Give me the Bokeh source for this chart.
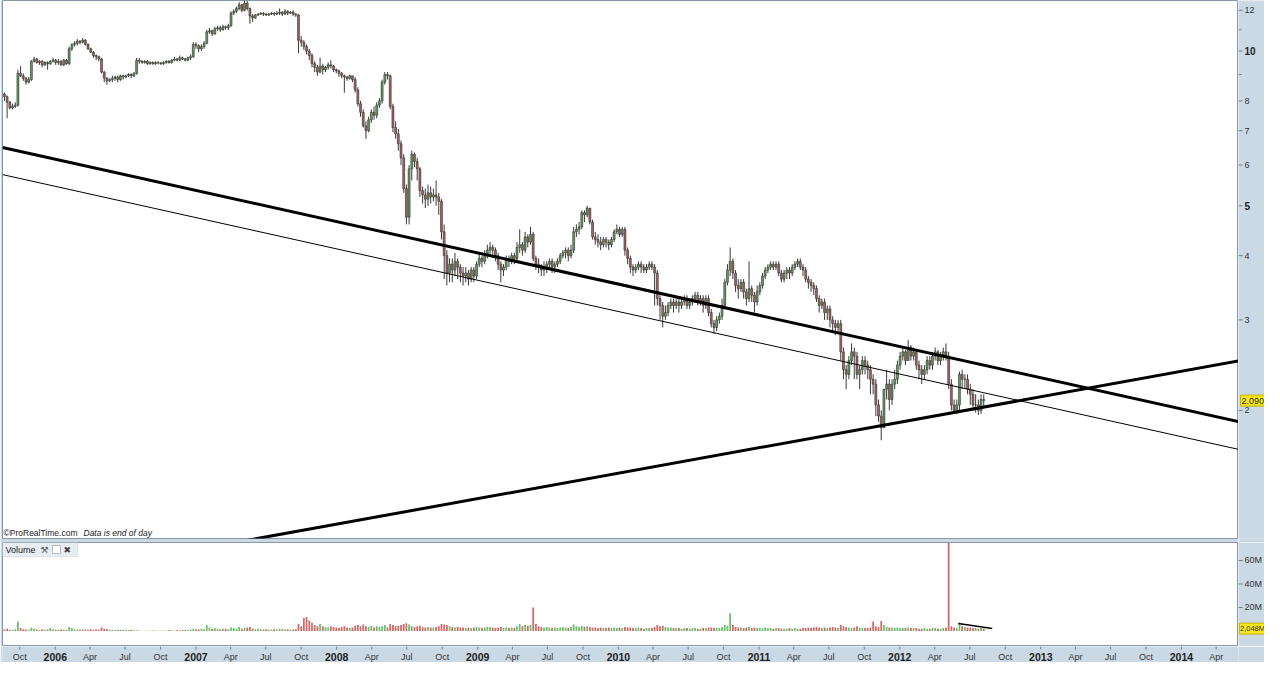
import pandas as pd
from bokeh.plotting import figure
from bokeh.layouts import column, row
from bokeh.models import Range1d, Label, BoxAnnotation, ColumnDataSource
from bokeh.embed import file_html
from bokeh.resources import INLINE
from bokeh.core.properties import value

# ---------------- data (weekly candles) ----------------
first_week = "2005-08-22"
first_open = 8.25

closes = [
    8.15, 7.95, 7.75, 7.8, 7.85, 9.05, 8.95, 8.85, 8.7, 8.8,
    9.55, 9.65, 9.5, 9.55, 9.4, 9.5, 9.45, 9.55, 9.6, 9.5,
    9.55, 9.4, 9.6, 9.45, 10.1, 10.3, 10.35, 10.45, 10.4, 10.5,
    10.3, 10.1, 9.95, 9.8, 9.75, 9.65, 9.1, 8.85, 8.75, 8.8,
    8.85, 8.9, 8.8, 8.95, 8.9, 8.95, 9.0, 8.95, 9.05, 9.6,
    9.55, 9.5, 9.55, 9.45, 9.5, 9.45, 9.5, 9.48, 9.45, 9.5,
    9.55, 9.5, 9.6, 9.65, 9.6, 9.7, 9.65, 9.6, 9.7, 9.75,
    10.3, 10.25, 10.1, 10.2, 10.35, 10.9, 10.95, 10.8, 11.05, 11.1,
    11.0, 11.15, 11.1, 11.2, 11.85, 11.95, 12.1, 12.3, 12.0, 12.4,
    12.1, 11.7, 11.6, 11.75, 11.8, 11.85, 11.8, 11.75, 11.8, 11.85,
    11.8, 11.85, 11.9, 11.8, 11.95, 11.85, 11.9, 11.8, 11.75, 10.5,
    10.4, 10.2, 10.0, 9.8, 9.45, 9.3, 9.1, 9.35, 9.2, 9.3,
    9.4, 9.35, 9.2, 9.15, 9.05, 8.95, 8.9, 8.85, 8.95, 8.8,
    8.4, 7.9, 7.6, 7.15, 7.0, 7.35, 7.6, 7.5, 7.85, 8.0,
    8.7, 9.0, 8.95, 7.8, 7.1, 6.9, 6.6, 6.2, 5.4, 4.75,
    5.9, 6.3, 6.1, 5.9, 5.35, 5.25, 5.15, 5.3, 5.2, 5.25,
    5.2, 5.1, 4.45, 4.0, 3.7, 3.85, 3.75, 3.9, 3.8, 3.7,
    3.65, 3.7, 3.6, 3.75, 3.65, 3.85, 3.95, 3.9, 4.0, 4.1,
    4.15, 4.1, 4.0, 3.85, 3.75, 3.8, 3.95, 3.9, 4.0, 3.95,
    4.15, 4.2, 4.1, 4.35, 4.25, 4.4, 3.95, 3.85, 3.8, 3.75,
    3.8, 3.85, 3.9, 3.8, 3.85, 3.9, 4.0, 4.05, 4.1, 4.0,
    4.1, 4.45, 4.5, 4.55, 4.85, 4.8, 4.95, 4.65, 4.35, 4.3,
    4.25, 4.2, 4.3, 4.25, 4.2, 4.3, 4.45, 4.5, 4.4, 4.5,
    4.1, 3.95, 3.8, 3.75, 3.8, 3.85, 3.8, 3.75, 3.8, 3.85,
    3.8, 3.7, 3.3, 3.2, 3.05, 3.1, 3.2, 3.25, 3.2, 3.25,
    3.2, 3.25, 3.3, 3.2, 3.25, 3.3, 3.35, 3.25, 3.3, 3.2,
    3.3, 3.1, 2.95, 2.9, 3.0, 3.05, 3.2, 3.55, 3.75, 3.9,
    3.7, 3.5, 3.45, 3.55, 3.4, 3.3, 3.45, 3.35, 3.25, 3.4,
    3.5, 3.65, 3.75, 3.8, 3.85, 3.8, 3.85, 3.7, 3.6, 3.7,
    3.75, 3.7, 3.8, 3.85, 3.9, 3.8, 3.75, 3.6, 3.55, 3.5,
    3.45, 3.3, 3.2, 3.25, 3.1, 3.15, 3.0, 2.95, 2.9, 2.95,
    2.6, 2.4, 2.35, 2.5, 2.6, 2.55, 2.35, 2.4, 2.5, 2.45,
    2.4, 2.3, 2.25, 2.05, 1.95, 1.85, 2.2, 2.25, 2.1, 2.25,
    2.3, 2.45, 2.55, 2.6, 2.5, 2.65, 2.55, 2.6, 2.45, 2.4,
    2.35, 2.4, 2.5, 2.45, 2.55, 2.6, 2.5, 2.55, 2.6, 2.55,
    2.25, 2.05, 2.0, 2.05, 2.35, 2.3, 2.3, 2.2, 2.15, 2.05,
    2.05, 2.0, 2.1, 2.09,
]

highs = [
    8.3, 8.2, 8.0, 7.9, 7.95, 9.2, 9.35, 9.05, 8.9, 8.9,
    9.6, 9.75, 9.7, 9.6, 9.6, 9.55, 9.55, 9.6, 9.7, 9.65,
    9.65, 9.6, 9.65, 9.65, 10.2, 10.35, 10.45, 10.55, 10.5, 10.6,
    10.55, 10.35, 10.15, 10.0, 9.85, 9.8, 9.7, 9.15, 8.9, 8.85,
    8.95, 8.95, 8.95, 9.0, 9.0, 9.0, 9.05, 9.05, 9.1, 9.7,
    9.7, 9.6, 9.6, 9.6, 9.55, 9.55, 9.55, 9.55, 9.52, 9.55,
    9.6, 9.6, 9.65, 9.75, 9.7, 9.8, 9.75, 9.7, 9.75, 9.85,
    10.4, 10.4, 10.3, 10.3, 10.45, 11.0, 11.1, 11.0, 11.15, 11.2,
    11.2, 11.25, 11.2, 11.3, 11.95, 12.05, 12.2, 12.45, 12.35, 12.55,
    12.5, 12.15, 11.8, 11.8, 11.85, 11.9, 11.9, 11.85, 11.85, 11.9,
    11.9, 11.95, 12.1, 11.95, 12.05, 12.0, 11.95, 12.0, 11.85, 11.8,
    10.7, 10.5, 10.3, 10.1, 9.9, 9.55, 9.4, 9.7, 9.45, 9.35,
    9.5, 9.6, 9.4, 9.25, 9.2, 9.1, 9.0, 8.95, 9.0, 8.95,
    8.9, 8.5, 8.0, 7.7, 7.3, 7.45, 7.7, 7.8, 7.95, 8.1,
    8.8, 9.1, 9.1, 9.0, 7.9, 7.3, 7.05, 6.7, 6.3, 5.5,
    6.0, 6.4, 6.35, 6.2, 5.95, 5.45, 5.4, 5.5, 5.45, 5.4,
    5.6, 5.3, 5.15, 4.6, 4.1, 3.95, 3.95, 4.05, 3.95, 3.85,
    3.8, 3.8, 3.75, 3.8, 3.8, 3.9, 4.05, 4.0, 4.1, 4.2,
    4.25, 4.2, 4.15, 4.05, 3.9, 3.85, 4.0, 4.0, 4.05, 4.05,
    4.25, 4.5, 4.25, 4.45, 4.4, 4.55, 4.45, 4.0, 3.95, 3.85,
    3.9, 3.9, 3.95, 3.95, 3.9, 3.95, 4.05, 4.1, 4.15, 4.15,
    4.2, 4.55, 4.6, 4.65, 4.9, 4.9, 5.0, 4.95, 4.7, 4.45,
    4.4, 4.35, 4.35, 4.35, 4.3, 4.35, 4.5, 4.6, 4.55, 4.55,
    4.55, 4.15, 4.0, 3.85, 3.85, 3.9, 3.9, 3.85, 3.85, 3.9,
    3.9, 3.85, 3.75, 3.35, 3.25, 3.2, 3.25, 3.3, 3.3, 3.3,
    3.3, 3.3, 3.35, 3.35, 3.3, 3.35, 3.4, 3.4, 3.35, 3.35,
    3.35, 3.35, 3.15, 3.0, 3.05, 3.1, 3.3, 3.6, 3.85, 4.15,
    3.95, 3.75, 3.6, 3.6, 3.6, 3.45, 3.9, 3.5, 3.4, 3.5,
    3.55, 3.7, 3.8, 3.85, 3.9, 3.9, 3.9, 3.9, 3.75, 3.75,
    3.8, 3.8, 3.85, 3.9, 3.95, 3.95, 3.85, 3.8, 3.65, 3.6,
    3.55, 3.5, 3.35, 3.3, 3.3, 3.2, 3.2, 3.05, 3.0, 3.0,
    3.0, 2.65, 2.45, 2.55, 2.7, 2.65, 2.6, 2.45, 2.55, 2.55,
    2.5, 2.45, 2.35, 2.3, 2.1, 2.0, 2.2, 2.4, 2.3, 2.3,
    2.4, 2.5, 2.6, 2.65, 2.62, 2.74, 2.68, 2.65, 2.62, 2.5,
    2.45, 2.45, 2.55, 2.55, 2.6, 2.65, 2.62, 2.6, 2.65, 2.7,
    2.6, 2.3, 2.1, 2.1, 2.38, 2.4, 2.35, 2.35, 2.25, 2.2,
    2.15, 2.1, 2.15, 2.15,
]

lows = [
    8.0, 7.4, 7.7, 7.7, 7.75, 7.8, 8.9, 8.75, 8.6, 8.65,
    8.75, 9.5, 9.45, 9.4, 9.3, 9.35, 9.2, 9.4, 9.5, 9.4,
    9.4, 9.35, 9.35, 9.4, 9.4, 10.0, 10.2, 10.25, 10.3, 10.35,
    10.25, 10.05, 9.9, 9.7, 9.6, 9.55, 9.05, 8.7, 8.6, 8.7,
    8.7, 8.75, 8.7, 8.75, 8.8, 8.85, 8.9, 8.85, 8.9, 9.0,
    9.45, 9.45, 9.45, 9.4, 9.4, 9.4, 9.4, 9.42, 9.4, 9.4,
    9.45, 9.45, 9.45, 9.55, 9.55, 9.55, 9.6, 9.55, 9.55, 9.6,
    9.7, 10.1, 9.95, 10.0, 10.1, 10.3, 10.8, 10.7, 10.75, 10.95,
    10.9, 10.95, 11.0, 11.0, 11.15, 11.75, 11.85, 12.0, 11.9, 11.95,
    12.0, 11.3, 11.4, 11.55, 11.7, 11.75, 11.7, 11.7, 11.7, 11.75,
    11.7, 11.75, 11.75, 11.7, 11.75, 11.75, 11.8, 11.7, 11.65, 9.9,
    10.2, 10.05, 9.85, 9.6, 9.3, 9.1, 8.95, 9.05, 9.0, 9.1,
    9.2, 9.25, 9.1, 9.05, 8.9, 8.85, 8.3, 8.75, 8.8, 8.7,
    8.3, 7.8, 7.45, 7.1, 6.75, 6.95, 7.25, 7.35, 7.4, 7.75,
    7.9, 8.6, 8.8, 7.7, 6.95, 6.75, 6.4, 6.0, 5.3, 4.6,
    4.6, 5.6, 5.95, 5.6, 5.2, 5.05, 4.95, 5.0, 5.05, 5.1,
    5.0, 4.8, 4.3, 3.6, 3.5, 3.55, 3.55, 3.65, 3.6, 3.55,
    3.5, 3.55, 3.5, 3.55, 3.55, 3.6, 3.8, 3.8, 3.85, 3.95,
    4.0, 4.0, 3.9, 3.75, 3.55, 3.65, 3.75, 3.8, 3.85, 3.85,
    3.9, 4.05, 4.0, 4.05, 4.15, 4.2, 3.9, 3.75, 3.7, 3.65,
    3.65, 3.7, 3.75, 3.7, 3.7, 3.8, 3.85, 3.95, 3.95, 3.9,
    3.95, 4.05, 4.35, 4.4, 4.5, 4.65, 4.75, 4.6, 4.3, 4.2,
    4.15, 4.1, 4.15, 4.15, 4.1, 4.15, 4.25, 4.4, 4.35, 4.35,
    4.0, 3.85, 3.7, 3.65, 3.7, 3.75, 3.7, 3.7, 3.7, 3.75,
    3.75, 3.2, 3.2, 3.0, 2.9, 3.0, 3.05, 3.15, 3.1, 3.15,
    3.1, 3.15, 3.2, 3.15, 3.15, 3.2, 3.25, 3.2, 3.2, 3.1,
    3.15, 3.05, 2.9, 2.82, 2.85, 2.95, 3.0, 3.15, 3.5, 3.65,
    3.6, 3.4, 3.3, 3.4, 3.3, 3.2, 3.25, 3.25, 3.1, 3.2,
    3.35, 3.45, 3.6, 3.7, 3.75, 3.75, 3.75, 3.65, 3.55, 3.55,
    3.6, 3.6, 3.65, 3.75, 3.8, 3.75, 3.65, 3.55, 3.45, 3.4,
    3.35, 3.25, 3.1, 3.15, 3.0, 3.0, 2.9, 2.85, 2.8, 2.85,
    2.5, 2.3, 2.2, 2.3, 2.45, 2.3, 2.3, 2.2, 2.35, 2.35,
    2.3, 2.15, 2.15, 1.95, 1.9, 1.75, 1.85, 2.1, 2.0, 2.05,
    2.2, 2.25, 2.4, 2.5, 2.45, 2.5, 2.5, 2.5, 2.4, 2.3,
    2.25, 2.3, 2.35, 2.4, 2.4, 2.5, 2.45, 2.45, 2.5, 2.5,
    2.2, 2.0, 1.97, 1.97, 2.0, 2.2, 2.2, 2.15, 2.05, 2.0,
    1.98, 1.96, 1.97, 2.02,
]

volumes_m = [
    1.2, 2.0, 1.0, 0.8, 1.5, 8.0, 2.5, 1.5, 1.2, 1.0,
    3.0, 2.0, 1.2, 1.0, 1.5, 1.0, 1.2, 2.5, 1.5, 1.0,
    1.0, 1.2, 1.0, 0.8, 3.5, 2.5, 1.5, 1.2, 1.0, 1.5,
    1.2, 1.0, 1.5, 1.0, 1.2, 1.0, 3.0, 2.0, 1.5, 1.0,
    1.0, 0.8, 1.0, 1.2, 0.8, 1.0, 0.8, 1.0, 0.6, 0.6,
    0.3, 0.2, 0.3, 0.2, 0.2, 0.5, 0.3, 0.2, 0.2, 0.2,
    0.5, 0.8, 0.6, 0.5, 0.8, 0.6, 1.0, 0.8, 1.0, 1.2,
    2.0, 1.5, 1.2, 2.0, 1.5, 5.0, 3.0, 2.0, 2.5, 2.0,
    1.5, 1.8, 2.0, 1.5, 3.0, 2.5, 2.0, 3.5, 2.0, 2.5,
    3.0, 3.5, 2.0, 1.5, 1.8, 1.5, 1.2, 1.5, 1.0, 1.2,
    1.5, 1.2, 1.8, 1.5, 1.2, 1.5, 1.0, 1.2, 1.5, 6.0,
    4.0, 11.0, 12.0, 9.0, 7.0, 5.0, 4.0, 6.0, 4.0, 3.5,
    3.0, 4.0, 3.5, 3.0, 2.5, 3.5, 4.0, 3.0, 2.5, 3.0,
    4.5, 5.0, 4.0, 5.5, 4.0, 3.5, 4.5, 3.0, 4.0, 3.5,
    4.0, 5.0, 3.0, 6.0, 5.0, 4.0, 4.5, 5.0, 6.0, 6.5,
    5.5, 4.0, 3.5, 4.0, 4.5, 3.5, 3.0, 3.5, 3.0, 3.0,
    3.5, 4.0, 6.0, 5.5, 5.0, 4.0, 3.5, 3.0, 3.5, 3.0,
    3.0, 2.5, 3.0, 2.5, 3.0, 3.5, 3.0, 2.5, 3.0, 3.5,
    3.5, 3.0, 2.5, 3.0, 3.5, 2.5, 3.0, 2.5, 3.0, 2.5,
    4.0, 6.0, 4.0, 5.0, 4.5, 5.0, 20.0, 6.0, 4.0, 3.5,
    3.0, 3.5, 3.0, 2.5, 3.0, 2.5, 3.0, 3.5, 3.0, 2.5,
    3.5, 5.5, 4.0, 3.5, 4.5, 3.5, 4.0, 3.5, 3.0, 3.0,
    2.5, 3.0, 2.5, 2.5, 3.0, 2.5, 3.0, 2.5, 3.0, 2.5,
    3.5, 3.0, 3.0, 2.5, 2.5, 3.0, 2.5, 2.0, 2.5, 2.5,
    2.5, 3.5, 5.0, 4.0, 4.5, 3.5, 3.0, 3.0, 2.5, 2.5,
    2.5, 2.0, 2.5, 2.5, 2.0, 2.5, 2.5, 2.0, 2.0, 2.5,
    2.5, 3.0, 3.0, 2.5, 2.5, 2.5, 3.5, 5.0, 4.5, 15.0,
    5.0, 3.5, 3.0, 3.0, 2.5, 3.0, 3.5, 2.5, 3.0, 2.5,
    2.5, 2.5, 3.0, 2.5, 2.5, 2.0, 2.5, 2.5, 2.0, 2.0,
    2.0, 2.5, 2.0, 2.5, 2.0, 2.0, 2.5, 2.5, 3.0, 2.5,
    3.0, 3.5, 3.0, 2.5, 3.0, 2.5, 3.0, 3.5, 3.0, 2.5,
    5.0, 4.0, 3.5, 3.0, 2.5, 3.0, 4.0, 3.0, 2.5, 2.5,
    2.5, 3.0, 8.0, 4.0, 3.5, 8.5, 5.0, 3.5, 3.0, 3.0,
    2.5, 3.0, 2.5, 2.5, 2.5, 3.0, 2.5, 2.5, 2.5, 2.0,
    2.0, 2.5, 2.0, 2.0, 2.5, 2.5, 2.0, 2.0, 2.5, 3.0,
    75.0, 4.0, 3.0, 2.5, 7.0, 4.0, 3.5, 3.0, 3.0, 2.5,
    2.5, 2.0, 2.5, 2.048,
]

# trend lines drawn on the chart: (date, value) end points
resistance_dates = ["2005-08-17", "2014-06-29"]
resistance_vals = [6.49, 1.88]
channel_dates = ["2005-08-17", "2014-06-29"]
channel_vals = [5.75, 1.66]
support_dates = ["2007-01-12", "2014-06-29"]
support_vals = [1.076, 2.52]
vol_line_dates = ["2012-06-01", "2012-08-28"]
vol_line_vals = [6.4, 2.1]

# axes
x_start, x_end = "2005-08-17", "2014-05-29"
price_min, price_max = 1.127, 12.54
vol_min, vol_max = -13.2, 75.3
price_ticks = [2, 3, 4, 5, 6, 7, 8, 10, 12]
price_tick_labels = ["2", "3", "4", "5", "6", "7", "8", "10", "12"]
price_bold = ["5", "10"]
price_minor = [9, 11]
vol_ticks = [20, 40, 60]
vol_tick_labels = ["20M", "40M", "60M"]
last_price_label = "2.090"
last_price = 2.09
last_vol_label = "2,048M"
last_vol = 2.048

xtick_dates = [
    "2005-10-01", "2006-01-01", "2006-04-01", "2006-07-01", "2006-10-01",
    "2007-01-01", "2007-04-01", "2007-07-01", "2007-10-01",
    "2008-01-01", "2008-04-01", "2008-07-01", "2008-10-01",
    "2009-01-01", "2009-04-01", "2009-07-01", "2009-10-01",
    "2010-01-01", "2010-04-01", "2010-07-01", "2010-10-01",
    "2011-01-01", "2011-04-01", "2011-07-01", "2011-10-01",
    "2012-01-01", "2012-04-01", "2012-07-01", "2012-10-01",
    "2013-01-01", "2013-04-01", "2013-07-01", "2013-10-01",
    "2014-01-01", "2014-04-01",
]
xtick_labels = [
    "Oct", "2006", "Apr", "Jul", "Oct",
    "2007", "Apr", "Jul", "Oct",
    "2008", "Apr", "Jul", "Oct",
    "2009", "Apr", "Jul", "Oct",
    "2010", "Apr", "Jul", "Oct",
    "2011", "Apr", "Jul", "Oct",
    "2012", "Apr", "Jul", "Oct",
    "2013", "Apr", "Jul", "Oct",
    "2014", "Apr",
]

# ---------------- build ----------------
FONT = "Liberation Sans"
BAND = "#cbd9e5"
EDGE = "#8797a8"
TICK = "#6b7b8b"
TXT = "#333333"
TAG = "#f6e51c"
UP_BODY, DN_BODY = "#5f9f5f", "#a86262"
UP_VOL, DN_VOL = "#6cbf6c", "#d06a6a"
FRAME_W = 1236
AX_W = 26
PRICE_H, VOL_H, XAX_H, GAP = 538, 104, 16, 4


def ms(d):
    return int(pd.Timestamp(d).value // 10**6)


def fig(**kw):
    f = figure(output_backend="svg", toolbar_location=None,
               x_axis_location=None, y_axis_location=None, min_border=0, **kw)
    f.grid.visible = False
    return f


n = min(len(closes), len(highs), len(lows), len(volumes_m))
dates = pd.date_range(first_week, periods=n, freq="7D")
opens = [first_open] + closes[: n - 1]
up = [closes[i] >= opens[i] for i in range(n)]
src = ColumnDataSource(dict(
    x=dates,
    h=highs[:n], l=lows[:n],
    top=[max(opens[i], closes[i]) for i in range(n)],
    bot=[min(opens[i], closes[i]) for i in range(n)],
    body=[UP_BODY if up[i] else DN_BODY for i in range(n)],
    vol=volumes_m[:n],
    vcol=[UP_VOL if up[i] else DN_VOL for i in range(n)],
))
week_w = 5 * 86400000
vol_w = 4.6 * 86400000
x_range = Range1d(ms(x_start), ms(x_end))

# ---- price panel ----
p1 = fig(frame_width=FRAME_W, frame_height=PRICE_H, x_range=x_range,
         y_range=Range1d(price_min, price_max), y_axis_type="log",
         min_border_left=2, min_border_bottom=GAP)
p1.background_fill_color = "white"
p1.border_fill_color = BAND
p1.outline_line_color = EDGE

p1.segment(x0="x", y0="l", x1="x", y1="h", source=src, line_color="#3a3a3a", line_width=1)
p1.vbar(x="x", top="top", bottom="bot", width=week_w, source=src,
        fill_color="body", line_color="#333333", line_width=0.6)
p1.line(x=[ms(d) for d in resistance_dates], y=resistance_vals, line_color="black", line_width=3)
p1.line(x=[ms(d) for d in channel_dates], y=channel_vals, line_color="black", line_width=1)
p1.line(x=[ms(d) for d in support_dates], y=support_vals, line_color="black", line_width=3)

p1.add_layout(Label(x=1, y=1, x_units="screen", y_units="screen", text="\u00a9ProRealTime.com",
                    text_font=FONT, text_font_size="8.5px", text_color="#222222",
                    text_baseline="bottom"))
p1.add_layout(Label(x=81, y=1, x_units="screen", y_units="screen", text="Data is end of day",
                    text_font=FONT, text_font_size="8.5px", text_font_style="italic",
                    text_color="#222222", text_baseline="bottom"))

# ---- price scale (right band) ----
p1r = fig(frame_width=AX_W, frame_height=PRICE_H, x_range=Range1d(0, AX_W),
          y_range=p1.y_range, y_axis_type="log", min_border_bottom=GAP)
p1r.background_fill_color = BAND
p1r.border_fill_color = BAND
p1r.outline_line_color = None
p1r.segment(x0=0, y0=price_ticks, x1=4, y1=price_ticks, line_color=TICK, line_width=1)
p1r.segment(x0=0, y0=price_minor, x1=3, y1=price_minor, line_color=TICK, line_width=1)
norm = [(t, s) for t, s in zip(price_ticks, price_tick_labels) if s not in price_bold]
bold = [(t, s) for t, s in zip(price_ticks, price_tick_labels) if s in price_bold]
p1r.text(x=6, y=[t for t, s in norm], text=[s for t, s in norm], text_font=value(FONT),
         text_font_size="9px", text_color=TXT, text_baseline="middle", text_align="left")
p1r.text(x=6, y=[t for t, s in bold], text=[s for t, s in bold], text_font=value(FONT),
         text_font_size="10px", text_font_style="bold", text_color="#222222",
         text_baseline="middle", text_align="left")
p1r.rect(x=[14], y=[last_price], width=24, height=11, width_units="screen", height_units="screen",
         fill_color=TAG, line_color="#c8b400")
p1r.text(x=3, y=[last_price], text=[last_price_label], text_font=value(FONT),
         text_font_size="9px", text_color=TXT, text_baseline="middle", text_align="left")

# ---- volume panel ----
p2 = fig(frame_width=FRAME_W, frame_height=VOL_H, x_range=x_range,
         y_range=Range1d(vol_min, vol_max), min_border_left=2)
p2.background_fill_color = "white"
p2.border_fill_color = BAND
p2.outline_line_color = EDGE
p2.vbar(x="x", top="vol", bottom=0, width=vol_w, source=src, fill_color="vcol", line_color=None)
p2.line(x=[ms(d) for d in vol_line_dates], y=vol_line_vals, line_color="black", line_width=1.5)

p2.add_layout(BoxAnnotation(left=0, right=75, top=VOL_H, bottom=VOL_H - 14,
                            left_units="screen", right_units="screen",
                            top_units="screen", bottom_units="screen",
                            fill_color="#e8edf1", fill_alpha=1.0, line_color="#a9b6c2", line_width=1))
p2.add_layout(Label(x=3, y=VOL_H - 7, x_units="screen", y_units="screen", text="Volume",
                    text_font=FONT, text_font_size="9px", text_color="#222222",
                    text_baseline="middle"))
p2.add_layout(Label(x=38, y=VOL_H - 7, x_units="screen", y_units="screen", text="\u2692",
                    text_font="DejaVu Sans", text_font_size="9px", text_color="#555555",
                    text_baseline="middle"))
p2.add_layout(BoxAnnotation(left=50, right=58, top=VOL_H - 3, bottom=VOL_H - 11,
                            left_units="screen", right_units="screen",
                            top_units="screen", bottom_units="screen",
                            fill_color="white", fill_alpha=1.0, line_color="#333333", line_width=1))
p2.add_layout(Label(x=61, y=VOL_H - 7, x_units="screen", y_units="screen", text="\u2716",
                    text_font="DejaVu Sans", text_font_size="9px", text_color="#444444",
                    text_baseline="middle"))

# ---- volume scale (right band) ----
p2r = fig(frame_width=AX_W, frame_height=VOL_H, x_range=Range1d(0, AX_W), y_range=p2.y_range)
p2r.background_fill_color = BAND
p2r.border_fill_color = BAND
p2r.outline_line_color = None
p2r.segment(x0=0, y0=vol_ticks, x1=4, y1=vol_ticks, line_color=TICK, line_width=1)
p2r.text(x=6, y=vol_ticks, text=vol_tick_labels, text_font=value(FONT), text_font_size="9px",
         text_color=TXT, text_baseline="middle", text_align="left")
p2r.rect(x=[13.5], y=[last_vol], width=25, height=11, width_units="screen", height_units="screen",
         fill_color=TAG, line_color="#c8b400")
p2r.text(x=1.5, y=[last_vol], text=[last_vol_label], text_font=value(FONT),
         text_font_size="7.5px", text_color=TXT, text_baseline="middle", text_align="left")

# ---- time scale (bottom band) ----
p3 = fig(frame_width=FRAME_W, frame_height=XAX_H, x_range=x_range, y_range=Range1d(0, XAX_H),
         min_border_left=2, min_border_right=AX_W)
p3.background_fill_color = BAND
p3.border_fill_color = BAND
p3.outline_line_color = None
tick_ms = [ms(d) for d in xtick_dates]
p3.segment(x0=tick_ms, y0=XAX_H, x1=tick_ms, y1=XAX_H - 3, line_color=TICK, line_width=1)
mon = [(t, s) for t, s in zip(tick_ms, xtick_labels) if not s.isdigit()]
yrs = [(t, s) for t, s in zip(tick_ms, xtick_labels) if s.isdigit()]
p3.text(x=[t for t, s in mon], y=6, text=[s for t, s in mon], text_font=value(FONT),
        text_font_size="9px", text_color=TXT, text_baseline="middle", text_align="center")
p3.text(x=[t for t, s in yrs], y=6, text=[s for t, s in yrs], text_font=value(FONT),
        text_font_size="10.5px", text_font_style="bold", text_color="#222222",
        text_baseline="middle", text_align="center")

layout = column(row(p1, p1r, spacing=0), row(p2, p2r, spacing=0), p3, spacing=0)
open("out.html", "w").write(file_html(layout, INLINE))
